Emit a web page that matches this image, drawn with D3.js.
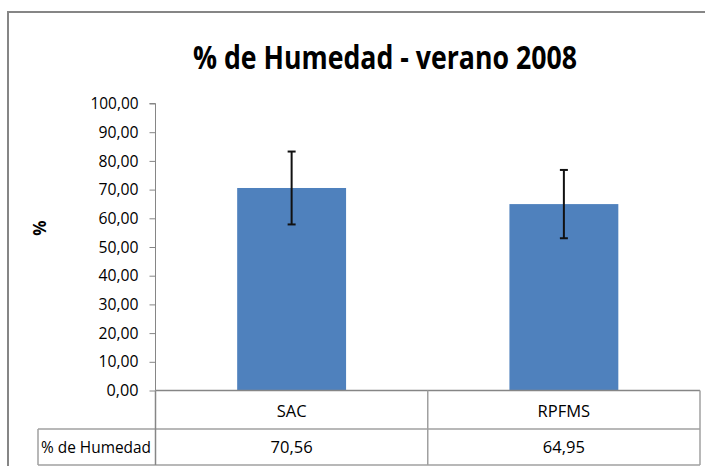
<!DOCTYPE html>
<html><head><meta charset="utf-8">
<script src="https://cdn.jsdelivr.net/npm/d3@7"></script>
<style>
html,body{margin:0;padding:0;background:#fff;}
svg{display:block;font-family:"Open Sans",sans-serif;}
</style></head><body>
<svg id="c" width="705" height="466"></svg>
<script>
const categories = ["SAC", "RPFMS"];
const values = [70.56, 64.95];
const errors = [12.7, 11.9];
const valueLabels = ["70,56", "64,95"];
const seriesName = "% de Humedad";
const yTicks = [0,10,20,30,40,50,60,70,80,90,100];
const title = "% de Humedad - verano 2008";
const yTitle = "%";

const svg = d3.select("#c");
const fmt = v => d3.format(".2f")(v).replace(".", ",");

// outer chart border
svg.append("path").attr("d","M8,466 L8,12 L705,12").attr("fill","none")
  .attr("stroke","#868686").attr("stroke-width",2);

const x = d3.scaleBand().domain(categories).range([155.5,700]).paddingInner(0.6).paddingOuter(0.3);
const y = d3.scaleLinear().domain([0,100]).range([390.5,103.5]);

// title
svg.append("text").attr("x",385).attr("y",69).attr("text-anchor","middle")
  .attr("font-size",32).attr("font-weight","bold").attr("fill","#000")
  .attr("textLength",384).attr("lengthAdjust","spacingAndGlyphs").text(title);

// y axis
const ya = svg.append("g").attr("transform","translate(155.5,0)")
  .call(d3.axisLeft(y).tickValues(yTicks).tickSize(6).tickPadding(11).tickFormat(fmt));
ya.select(".domain").attr("stroke","#868686").attr("d","M-6,103.5H0V390.5");
ya.selectAll(".tick line").attr("stroke","#868686");
ya.selectAll(".tick text").attr("font-size",16).attr("fill","#000")
  .attr("font-family","'Open Sans',sans-serif")
  .attr("textLength",d=>fmt(d).length*8).attr("lengthAdjust","spacingAndGlyphs");

svg.append("text").attr("transform","translate(46,228) rotate(-90)")
  .attr("text-anchor","middle").attr("font-size",17).attr("font-weight","bold").text(yTitle);

// bars
svg.selectAll("rect.bar").data(categories).join("rect").attr("class","bar")
  .attr("x",d=>x(d)).attr("width",x.bandwidth())
  .attr("y",(d,i)=>y(values[i])).attr("height",(d,i)=>y(0)-y(values[i]))
  .attr("fill","#4F81BD");

// error bars
const eb = svg.selectAll("g.err").data(categories).join("g").attr("class","err");
eb.append("line").attr("x1",d=>x(d)+x.bandwidth()/2).attr("x2",d=>x(d)+x.bandwidth()/2)
  .attr("y1",(d,i)=>y(values[i]+errors[i])).attr("y2",(d,i)=>y(values[i]-errors[i]))
  .attr("stroke","#111").attr("stroke-width",2);
[1,-1].forEach(s=>{
  eb.append("line").attr("x1",d=>x(d)+x.bandwidth()/2-4).attr("x2",d=>x(d)+x.bandwidth()/2+4)
    .attr("y1",(d,i)=>y(values[i]+s*errors[i])).attr("y2",(d,i)=>y(values[i]+s*errors[i]))
    .attr("stroke","#111").attr("stroke-width",2);
});

// data table
const tg = svg.append("g").attr("stroke","#A0A0A0").attr("stroke-width",1.5).attr("fill","none");
const colEdges = [155.5].concat(categories.map(c=>x(c)+x.bandwidth()/2+x.step()/2));
const rowTop = 390.5, rowMid = 429, rowBot = 465;
tg.append("line").attr("x1",155.5).attr("x2",700).attr("y1",rowTop).attr("y2",rowTop).attr("stroke","#868686");
tg.append("line").attr("x1",38).attr("x2",700).attr("y1",rowMid).attr("y2",rowMid);
tg.append("line").attr("x1",38).attr("x2",700).attr("y1",rowBot).attr("y2",rowBot);
tg.append("line").attr("x1",38).attr("x2",38).attr("y1",rowMid).attr("y2",rowBot);
colEdges.forEach((cx,i)=>{
  tg.append("line").attr("x1",cx).attr("x2",cx).attr("y1",rowTop).attr("y2",rowBot)
    .attr("stroke", i===0 ? "#868686" : "#A0A0A0");
});

svg.selectAll("text.cat").data(categories).join("text").attr("class","cat")
  .attr("x",d=>x(d)+x.bandwidth()/2).attr("y",417).attr("text-anchor","middle")
  .attr("font-size",16.5).attr("fill","#000").text(d=>d);
svg.selectAll("text.val").data(valueLabels).join("text").attr("class","val")
  .attr("x",(d,i)=>x(categories[i])+x.bandwidth()/2).attr("y",453).attr("text-anchor","middle")
  .attr("font-size",16.5).attr("fill","#000").text(d=>d);
svg.append("text").attr("x",41).attr("y",453).attr("font-size",16.5).attr("fill","#000")
  .attr("textLength",110).attr("lengthAdjust","spacingAndGlyphs").text(seriesName);
</script></body></html>
